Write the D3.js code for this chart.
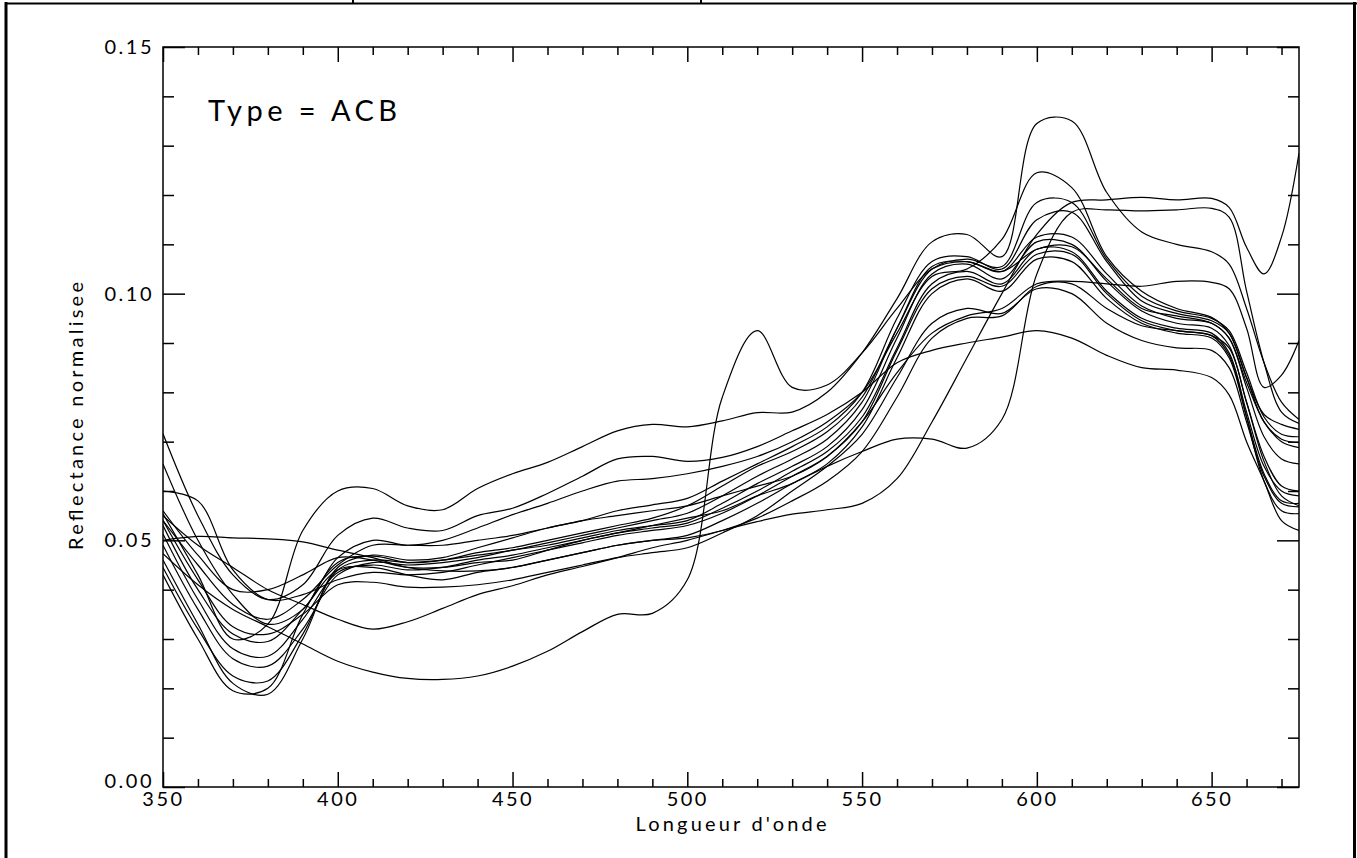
<!DOCTYPE html>
<html lang="fr">

<head>
    <meta charset="UTF-8">
    <title>Type = ACB</title>
    <script src="https://d3js.org/d3.v7.min.js"></script>
    <style>
        body { margin: 0; background: #fff; }
        svg text { font-family: Lato, "DejaVu Sans", sans-serif; font-weight: 400; fill: #000; }
    </style>
</head>

<body>
    <svg id="chart" width="1357" height="858"></svg>

    <script>
        // Wavelengths (nm) at which each spectrum is read
        const wavelengths = [350, 360, 370, 380, 390, 400, 410, 420, 430, 440, 450, 460, 470, 480, 490, 500,
            510, 520, 530, 540, 550, 560, 570, 580, 590, 600, 610, 620, 630, 640, 650, 655, 660, 665, 670, 675];

        // Normalised reflectance spectra
        const specPeak = [0.0554, 0.043, 0.030, 0.033, 0.052, 0.060, 0.0605, 0.057, 0.0562, 0.0605, 0.0635, 0.0658, 0.069, 0.0722, 0.0735, 0.073,
            0.0742, 0.0759, 0.076, 0.080, 0.088, 0.099, 0.1105, 0.112, 0.1075, 0.1345, 0.135, 0.1205, 0.1125, 0.110, 0.1085, 0.106, 0.097, 0.086, 0.078, 0.0745];
        const specStep = [0.0473, 0.041, 0.036, 0.0325, 0.029, 0.0255, 0.0233, 0.022, 0.0218, 0.0225, 0.0245, 0.0275, 0.0315, 0.035, 0.0352, 0.042,
            0.079, 0.0925, 0.081, 0.0815, 0.088, 0.097, 0.105, 0.1065, 0.1045, 0.109, 0.1095, 0.103, 0.097, 0.0955, 0.094, 0.091, 0.082, 0.074, 0.070, 0.0688];
        const specHigh = [0.055, 0.049, 0.0445, 0.040, 0.037, 0.034, 0.032, 0.0335, 0.0362, 0.039, 0.0408, 0.043, 0.0447, 0.0465, 0.0485, 0.050,
            0.052, 0.0538, 0.0553, 0.0562, 0.0575, 0.0625, 0.074, 0.087, 0.100, 0.112, 0.1185, 0.119, 0.1195, 0.119, 0.1193, 0.1175, 0.1094, 0.104, 0.1115, 0.1285];
        const specLate = [0.056, 0.047, 0.040, 0.040, 0.043, 0.0465, 0.046, 0.0445, 0.0445, 0.0455, 0.046, 0.048, 0.050, 0.0515, 0.053, 0.0545,
            0.056, 0.059, 0.0615, 0.065, 0.068, 0.0705, 0.0705, 0.0687, 0.0745, 0.104, 0.1165, 0.117, 0.1168, 0.117, 0.1173, 0.1155, 0.1005, 0.086, 0.076, 0.0737];
        const specFlat = [0.054, 0.045, 0.037, 0.034, 0.038, 0.045, 0.049, 0.049, 0.049, 0.050, 0.051, 0.0525, 0.054, 0.055, 0.056, 0.057,
            0.059, 0.061, 0.063, 0.067, 0.074, 0.084, 0.092, 0.0955, 0.097, 0.102, 0.1025, 0.102, 0.1015, 0.1025, 0.1023, 0.101, 0.093, 0.081, 0.0835, 0.0905];
        const specLow = [0.0716, 0.055, 0.043, 0.038, 0.041, 0.051, 0.0545, 0.0525, 0.052, 0.055, 0.0565, 0.0595, 0.063, 0.0665, 0.067, 0.066,
            0.0668, 0.069, 0.0722, 0.0755, 0.080, 0.086, 0.0885, 0.090, 0.0912, 0.0925, 0.091, 0.0875, 0.085, 0.0845, 0.083, 0.0795, 0.070, 0.062, 0.054, 0.052];
        const spec07 = [0.0655, 0.050, 0.039, 0.033, 0.036, 0.0465, 0.050, 0.049, 0.050, 0.0525, 0.0552, 0.0575, 0.060, 0.062, 0.0625, 0.0635,
            0.065, 0.067, 0.070, 0.074, 0.080, 0.092, 0.1035, 0.105, 0.111, 0.1245, 0.1215, 0.1075, 0.1005, 0.097, 0.0952, 0.092, 0.083, 0.0755, 0.0735, 0.0725];
        const spec08 = [0.050, 0.0508, 0.0505, 0.0503, 0.0497, 0.048, 0.0465, 0.0445, 0.0438, 0.0438, 0.0445, 0.046, 0.0475, 0.049, 0.050, 0.0505,
            0.052, 0.0545, 0.058, 0.062, 0.068, 0.079, 0.091, 0.095, 0.0955, 0.1015, 0.102, 0.097, 0.0935, 0.0925, 0.0915, 0.089, 0.078, 0.066, 0.059, 0.057];
        const spec09 = [0.043, 0.030, 0.0195, 0.020, 0.035, 0.0455, 0.0468, 0.0455, 0.046, 0.0475, 0.0485, 0.050, 0.0515, 0.053, 0.0545, 0.057,
            0.061, 0.065, 0.068, 0.072, 0.079, 0.093, 0.105, 0.107, 0.1055, 0.1185, 0.1185, 0.107, 0.0995, 0.0965, 0.095, 0.0925, 0.084, 0.075, 0.0715, 0.071];
        const spec10 = [0.046, 0.033, 0.021, 0.0188, 0.030, 0.0445, 0.047, 0.046, 0.0465, 0.0485, 0.0505, 0.0525, 0.054, 0.056, 0.0572, 0.0585,
            0.062, 0.0655, 0.069, 0.073, 0.080, 0.095, 0.1065, 0.1075, 0.105, 0.115, 0.1165, 0.1065, 0.0985, 0.096, 0.0945, 0.092, 0.083, 0.074, 0.0705, 0.0698];
        const spec11 = [0.0445, 0.032, 0.0225, 0.0215, 0.031, 0.044, 0.046, 0.0455, 0.046, 0.047, 0.048, 0.0495, 0.051, 0.0525, 0.054, 0.0555,
            0.059, 0.063, 0.0665, 0.0705, 0.078, 0.093, 0.1055, 0.1065, 0.1045, 0.1115, 0.1115, 0.104, 0.0975, 0.095, 0.094, 0.091, 0.081, 0.071, 0.0665, 0.0655];
        const spec12 = [0.049, 0.036, 0.026, 0.0245, 0.032, 0.043, 0.0455, 0.045, 0.0455, 0.0465, 0.048, 0.049, 0.0505, 0.052, 0.053, 0.054,
            0.0575, 0.0615, 0.065, 0.069, 0.0765, 0.091, 0.104, 0.106, 0.103, 0.1105, 0.110, 0.1025, 0.0965, 0.094, 0.093, 0.0895, 0.078, 0.067, 0.061, 0.060];
        const spec13 = [0.0513, 0.038, 0.028, 0.0265, 0.034, 0.0435, 0.045, 0.044, 0.0445, 0.046, 0.047, 0.0485, 0.050, 0.0515, 0.0525, 0.0535,
            0.0565, 0.060, 0.064, 0.068, 0.075, 0.089, 0.102, 0.1045, 0.102, 0.109, 0.1085, 0.1005, 0.095, 0.093, 0.092, 0.088, 0.076, 0.065, 0.060, 0.059];
        const spec14 = [0.053, 0.040, 0.031, 0.0295, 0.036, 0.044, 0.0445, 0.043, 0.042, 0.0435, 0.0445, 0.046, 0.0475, 0.049, 0.050, 0.051,
            0.054, 0.0575, 0.0615, 0.0655, 0.073, 0.087, 0.100, 0.103, 0.1005, 0.107, 0.1065, 0.099, 0.094, 0.092, 0.091, 0.087, 0.075, 0.0635, 0.058, 0.0575];
        const spec15 = [0.054, 0.042, 0.0325, 0.031, 0.035, 0.041, 0.0415, 0.0405, 0.0405, 0.041, 0.042, 0.0435, 0.045, 0.0465, 0.0475, 0.0485,
            0.0515, 0.055, 0.060, 0.065, 0.0715, 0.083, 0.094, 0.097, 0.096, 0.101, 0.100, 0.094, 0.0905, 0.089, 0.0885, 0.085, 0.074, 0.063, 0.0575, 0.0568];
        const spec16 = [0.060, 0.058, 0.044, 0.038, 0.039, 0.042, 0.0435, 0.043, 0.0435, 0.045, 0.0465, 0.048, 0.0495, 0.051, 0.052, 0.053,
            0.0555, 0.059, 0.063, 0.067, 0.074, 0.0885, 0.101, 0.1035, 0.1015, 0.108, 0.108, 0.100, 0.0945, 0.0925, 0.0915, 0.0875, 0.075, 0.062, 0.056, 0.0554];

        const spectra = [specPeak, specStep, specHigh, specLate, specFlat, specLow, spec07, spec08,
            spec09, spec10, spec11, spec12, spec13, spec14, spec15, spec16];

        // Axis ticks
        const xMajor = [350, 400, 450, 500, 550, 600, 650];
        const yMajor = [0, 0.05, 0.10, 0.15];

        const margin = { top: 47, left: 163 };
        const width = 1136;
        const height = 740;

        const svg = d3.select("#chart");

        // page frame (cropped table border)
        const frame = svg.append("g").attr("stroke", "#000");
        frame.append("line").attr("x1", 6).attr("x2", 6).attr("y1", 2).attr("y2", 858).attr("stroke-width", 3);
        frame.append("line").attr("x1", 1354.5).attr("x2", 1354.5).attr("y1", 2).attr("y2", 858).attr("stroke-width", 3);
        frame.append("line").attr("x1", 5).attr("x2", 1357).attr("y1", 3.5).attr("y2", 3.5).attr("stroke-width", 2);
        [353, 701].forEach(x => {
            frame.append("line").attr("x1", x).attr("x2", x).attr("y1", 0).attr("y2", 4).attr("stroke-width", 2);
        });

        const g = svg.append("g")
            .attr("transform", `translate(${margin.left},${margin.top})`);

        const xScale = d3.scaleLinear().domain([350, 675]).range([0, width]);
        const yScale = d3.scaleLinear().domain([0, 0.15]).range([height, 0]);

        // clip to the plot box
        g.append("clipPath").attr("id", "clip")
            .append("rect").attr("width", width).attr("height", height);

        const line = d3.line()
            .x((d, i) => xScale(wavelengths[i]))
            .y(d => yScale(d))
            .curve(d3.curveCatmullRom);

        g.append("g")
            .attr("clip-path", "url(#clip)")
            .selectAll("path")
            .data(spectra)
            .join("path")
            .attr("fill", "none")
            .attr("stroke", "#000")
            .attr("stroke-width", 1.2)
            .attr("d", line);

        // axes, ticks pointing inward as in IDL plots
        const xMinor = d3.range(360, 675, 10).filter(v => v % 50);
        const yMinor = d3.range(1, 15).filter(i => i % 5).map(i => i / 100);

        function styleAxis(sel) {
            sel.select(".domain").remove();
            sel.selectAll("line").attr("stroke", "#000").attr("stroke-width", 1.5);
            sel.selectAll("text").style("font-size", "20px").style("letter-spacing", "2.5px");
        }

        g.append("g")
            .attr("transform", `translate(0,${height})`)
            .call(d3.axisBottom(xScale).tickValues(xMajor).tickSize(-15).tickPadding(5).tickFormat(d3.format("d")))
            .call(styleAxis);
        g.append("g")
            .attr("transform", `translate(0,${height})`)
            .call(d3.axisBottom(xScale).tickValues(xMinor).tickSize(-8).tickFormat(""))
            .call(styleAxis);
        g.append("g")
            .call(d3.axisTop(xScale).tickValues(xMajor).tickSize(-15).tickFormat(""))
            .call(styleAxis);
        g.append("g")
            .call(d3.axisTop(xScale).tickValues(xMinor).tickSize(-8).tickFormat(""))
            .call(styleAxis);

        const yAxis = g.append("g")
            .call(d3.axisLeft(yScale).tickValues(yMajor).tickSize(-22).tickPadding(9).tickFormat(d3.format(".2f")))
            .call(styleAxis);
        yAxis.selectAll("text").filter(d => d === 0).attr("dy", "0em");
        g.append("g")
            .call(d3.axisLeft(yScale).tickValues(yMinor).tickSize(-11).tickFormat(""))
            .call(styleAxis);
        g.append("g")
            .attr("transform", `translate(${width},0)`)
            .call(d3.axisRight(yScale).tickValues(yMajor).tickSize(-22).tickFormat(""))
            .call(styleAxis);
        g.append("g")
            .attr("transform", `translate(${width},0)`)
            .call(d3.axisRight(yScale).tickValues(yMinor).tickSize(-11).tickFormat(""))
            .call(styleAxis);

        // plot box
        g.append("rect")
            .attr("width", width)
            .attr("height", height)
            .attr("fill", "none")
            .attr("stroke", "#000")
            .attr("stroke-width", 1.5);

        // titles
        g.append("text")
            .attr("x", width / 2)
            .attr("y", height + 44)
            .attr("text-anchor", "middle")
            .attr("textLength", 191)
            .attr("lengthAdjust", "spacing")
            .style("font-size", "20px")
            .text("Longueur d'onde");

        svg.append("text")
            .attr("transform", "translate(83,416) rotate(-90)")
            .attr("text-anchor", "middle")
            .attr("textLength", 268)
            .attr("lengthAdjust", "spacing")
            .style("font-size", "20px")
            .text("Reflectance normalisee");

        svg.append("text")
            .attr("x", 208)
            .attr("y", 121)
            .attr("textLength", 189)
            .attr("lengthAdjust", "spacing")
            .style("font-size", "29px")
            .text("Type = ACB");
    </script>
</body>

</html>
